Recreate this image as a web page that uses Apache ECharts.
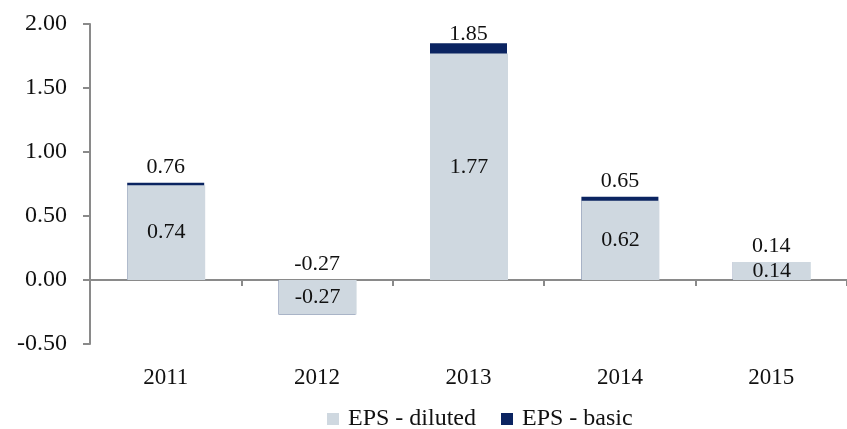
<!DOCTYPE html>
<html>
<head>
<meta charset="utf-8">
<script src="https://cdn.jsdelivr.net/npm/echarts@6/dist/echarts.min.js"></script>
<style>
  html, body { margin: 0; padding: 0; background: #fff; }
  #chart { width: 847px; height: 429px; }
</style>
</head>
<body>
<div id="chart"></div>
<script>
// Earnings per share by year
const years = ['2011', '2012', '2013', '2014', '2015'];
const epsDiluted = [0.74, -0.27, 1.77, 0.62, 0.14];
const epsBasic = [0.76, -0.27, 1.85, 0.65, 0.14];
const seriesNames = ['EPS - diluted', 'EPS - basic'];
const yTicks = { min: -0.5, max: 2.0, step: 0.5 };

const FONT = '"Liberation Serif", "DejaVu Serif", serif';
const TEXT = '#111';
const AXIS = '#8a8a8a';
const GRAY = '#cfd8e0';
const NAVY = '#0b2461';

const fmt = v => Number(v).toFixed(2);

// basic label sits above the bar; the tallest one is pulled down to stay in the plot
const basicData = epsBasic.map(v => v > 1.8
  ? { value: v, label: { distance: -2 } }
  : v);

const chart = echarts.init(document.getElementById('chart'), null, { renderer: 'canvas' });

chart.setOption({
  animation: false,
  textStyle: { fontFamily: FONT, color: TEXT },
  grid: { left: 90, right: -13, top: 24, bottom: 85, containLabel: false },
  legend: {
    left: 322, top: 402,
    itemWidth: 12, itemHeight: 12, itemGap: 25,
    icon: 'rect',
    textStyle: { fontFamily: FONT, fontSize: 24, color: TEXT, padding: [0, 0, 0, 4] },
    data: seriesNames
  },
  xAxis: [
    {
      // category labels along the bottom of the plot
      type: 'category', data: years,
      axisLine: { show: false, onZero: false },
      axisTick: { show: false },
      axisLabel: { fontFamily: FONT, fontSize: 23, color: TEXT, margin: 22 }
    },
    {
      // baseline drawn through zero with boundary ticks
      type: 'category', data: years, position: 'bottom',
      axisLine: { show: true, onZero: true, lineStyle: { color: AXIS, width: 2 } },
      axisTick: { show: true, length: 6, lineStyle: { color: AXIS, width: 2 } },
      axisLabel: { show: false }
    }
  ],
  yAxis: {
    type: 'value', min: yTicks.min, max: yTicks.max, interval: yTicks.step,
    splitLine: { show: false },
    axisLine: { show: true, lineStyle: { color: AXIS, width: 2 } },
    axisTick: { show: true, length: 7, lineStyle: { color: AXIS, width: 2 } },
    axisLabel: { fontFamily: FONT, fontSize: 24, color: TEXT, margin: 23, formatter: fmt }
  },
  series: [
    {
      name: seriesNames[0], type: 'bar', xAxisIndex: 0,
      data: epsDiluted, barWidth: 78, barGap: '-100%', z: 3,
      itemStyle: { color: GRAY },
      label: {
        show: true, position: 'inside', fontFamily: FONT, fontSize: 22, color: TEXT,
        formatter: p => fmt(p.value)
      }
    },
    {
      // slightly narrower so its sides stay hidden behind the diluted bar
      name: seriesNames[1], type: 'bar', xAxisIndex: 0,
      data: basicData, barWidth: 77, barGap: '-100%', z: 2,
      itemStyle: { color: NAVY },
      label: {
        show: true, position: 'top', distance: 5, fontFamily: FONT, fontSize: 22, color: TEXT,
        formatter: p => fmt(p.value)
      }
    }
  ]
});
</script>
</body>
</html>
